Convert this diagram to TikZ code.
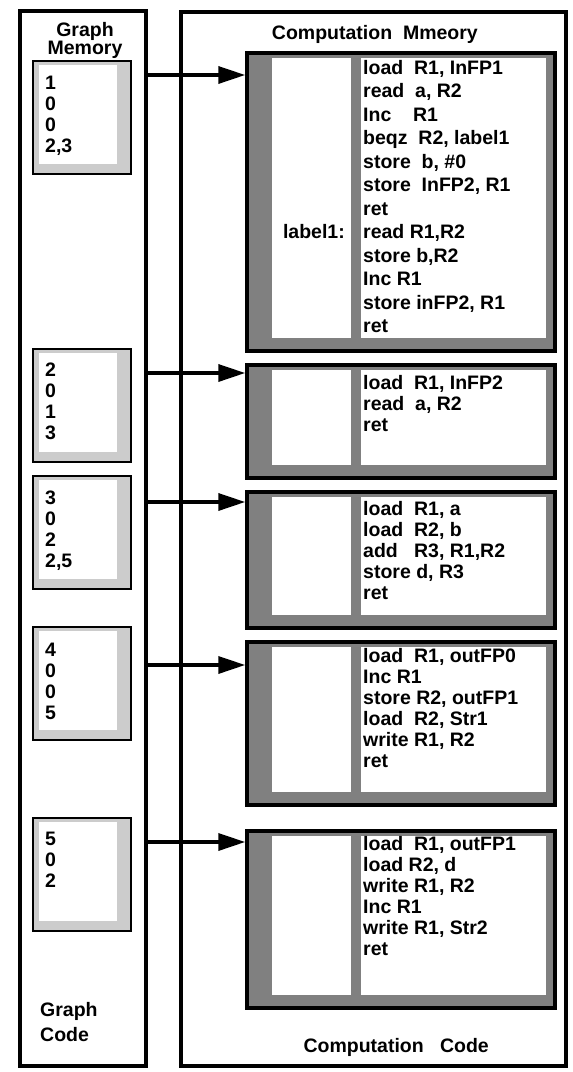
\documentclass[tikz,border=0pt]{standalone}
\usepackage{fontspec}
\setmainfont{Liberation Sans}
\usetikzlibrary{arrows.meta, positioning, calc}

\begin{document}
\begin{tikzpicture}[x=1pt, y=-1pt,
    col/.style={draw, line width=4.5pt, inner sep=0pt},
    cbox/.style={draw, line width=3.5pt, fill=black!50, minimum width=308pt, inner sep=0pt},
    gbox/.style={draw, line width=2.8pt, fill=black!20, minimum width=98pt, minimum height=113pt, inner sep=0pt},
    txt/.style={font=\bfseries\fontsize{19.5}{21}\selectfont, inner sep=0pt, align=left, anchor=north west},
    ptr/.style={line width=3.5pt, -{Triangle[length=27pt, width=17pt]}}]

\useasboundingbox (0,0) rectangle (573,1072);

% the two memories
\node[col, minimum width=126pt, minimum height=1055pt] (gcol) at (83,538.5) {};
\node[col, minimum width=385pt, minimum height=1054pt] (ccol) at (373.5,539) {};

\node[txt, align=center, anchor=north] (ghead) at (85,22) {Graph\\[-2.5pt]Memory};
\node[txt, anchor=north east] (chead) at (478,25) {Computation\ \ Mmeory};
\node[txt] (gfoot) at (40,1002) {Graph\\[4pt]Code};
\node[txt, anchor=north east] (cfoot) at (489,1038) {Computation\ \ \ Code};

% graph memory cells
\foreach \n/\t in {1/61, 2/349, 3/476, 4/627, 5/818} {
    \node[gbox] (g\n) at (82,\t+56.5) {};
    \fill[white] (39,\t+4) rectangle (117,\t+103);
}
\node[txt] (n1) at (45,76) {1\\0\\0\\2,3};
\node[txt] (n2) at (45,363) {2\\0\\1\\3};
\node[txt] (n3) at (45,491) {3\\0\\2\\2,5};
\node[txt] (n4) at (45,643) {4\\0\\0\\5};
\node[txt] (n5) at (45,832) {5\\0\\2};

% computation memory blocks
\foreach \n/\t/\b in {1/53/351, 2/365/478, 3/492/628, 4/642/805, 5/831/1008} {
    \node[cbox, minimum height={(\b-\t)*1pt}] (c\n) at (401,{(\t+\b)/2}) {};
    \fill[white] (272,\t+5) rectangle (351,\b-13);
    \fill[white] (361,\t+5) rectangle (546,\b-13);
}
\node[txt, font=\bfseries\fontsize{19.5}{23.5}\selectfont] (t1) at (363,60)
    {load\ \ R1, InFP1\\read\ \ a, R2\\Inc\ \ \ \ R1\\beqz\ \ R2, label1\\store\ \ b, \#0\\store\ \ InFP2, R1\\ret\\read R1,R2\\store b,R2\\Inc R1\\store inFP2, R1\\ret};
\node[txt, anchor=north east] (lab) at (345,224.5) {label1:};
\node[txt] (t2) at (363,375) {load\ \ R1, InFP2\\read\ \ a, R2\\ret};
\node[txt] (t3) at (363,501) {load\ \ R1, a\\load\ \ R2, b\\add\ \ \ R3, R1,R2\\store d, R3\\ret};
\node[txt] (t4) at (363,648) {load\ \ R1, outFP0\\Inc R1\\store R2, outFP1\\load\ \ R2, Str1\\write R1, R2\\ret};
\node[txt] (t5) at (363,836) {load\ \ R1, outFP1\\load R2, d\\write R1, R2\\Inc R1\\write R1, Str2\\ret};

% pointers from graph to code
\foreach \n/\y in {1/75, 2/373, 3/502, 4/665, 5/842} {
    \coordinate (a\n) at (146,\y);
    \draw[ptr] (a\n) -- (a\n -| c\n.west);
}
\end{tikzpicture}
\end{document}
